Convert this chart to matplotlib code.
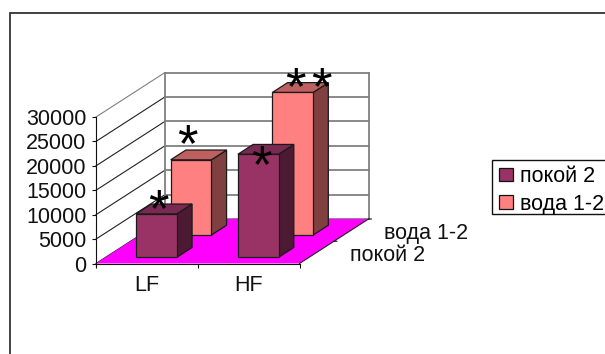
#!/usr/bin/env python3

import matplotlib
matplotlib.use("Agg")
import matplotlib.pyplot as plt
from matplotlib.patches import Patch, Polygon, Rectangle

plt.rcParams["font.family"] = ["Liberation Sans", "DejaVu Sans"]

W, H = 605, 354

categories = ["LF", "HF"]
series_names = ["покой 2", "вода 1-2"]
rest_values = [8900, 21100]
water_values = [15400, 29200]
y_ticks = [0, 5000, 10000, 15000, 20000, 25000, 30000]
# category, series, how far off the bar top each star sits (pixels)
stars = [
    (0, 0, -6, -28),
    (0, 1, -11, -17),
    (1, 0, -5, -44),
    (1, 1, -5, -28),
    (1, 1, 21, -28),
]

# oblique shift of the full chart depth, in data units
DX = 69 / 101.75
DY = 44.5 / 146.5 * 30000
TEXT_SIZE = 15.5

face_colors = ["#993366", "#FF8080"]
side_colors = ["#4D1A33", "#804040"]
top_colors = ["#7A2952", "#BF6060"]
edge = "#1A1A1A"


def pt(x, v, d):
    return (x + d * DX, v + d * DY)


def poly(ax, pts, color, z, ec="none", lw=0.0):
    ax.add_patch(Polygon(pts, closed=True, facecolor=color, edgecolor=ec,
                         linewidth=lw, zorder=z, clip_on=False))


def draw_bar(ax, cat, value, s, z):
    x0, x1 = cat + 0.3, cat + 0.7
    d0, d1 = s * 0.5 + 0.14, s * 0.5 + 0.36
    poly(ax, [pt(x1, 0, d0), pt(x1, 0, d1), pt(x1, value, d1), pt(x1, value, d0)],
         side_colors[s], z, edge, 0.9)
    poly(ax, [pt(x0, value, d0), pt(x1, value, d0), pt(x1, value, d1), pt(x0, value, d1)],
         top_colors[s], z, edge, 0.9)
    poly(ax, [pt(x0, 0, d0), pt(x1, 0, d0), pt(x1, value, d0), pt(x0, value, d0)],
         face_colors[s], z, edge, 0.9)


fig = plt.figure(figsize=(W / 100, H / 100), dpi=100, facecolor="white")
ax = fig.add_axes([96 / W, (H - 263.5) / H, 203.5 / W, 146.5 / H])
ax.set_xlim(0, 2)
ax.set_ylim(0, 30000)
ax.patch.set_visible(False)
for name in ["top", "right"]:
    ax.spines[name].set_visible(False)
for name in ["left", "bottom"]:
    ax.spines[name].set_linewidth(0.8)
    ax.spines[name].set_color("#111111")
    ax.spines[name].set_zorder(2.5)

# outer chart frame, runs past the image edge
fig.add_artist(Rectangle((10 / W, -0.1), 1.0, 0.1 + (H - 13) / H,
                         fill=False, edgecolor="#333333", linewidth=1.3,
                         transform=fig.transFigure))

# walls and gridlines
for v in y_ticks:
    ax.plot([pt(0, v, 0)[0], pt(0, v, 1)[0]], [pt(0, v, 0)[1], pt(0, v, 1)[1]],
            color="#808080" if v == y_ticks[-1] else "#222222",
            lw=0.8, zorder=1, clip_on=False)
    ax.plot([pt(0, v, 1)[0], pt(2, v, 1)[0]], [pt(0, v, 1)[1], pt(2, v, 1)[1]],
            color="#808080", lw=1.3, zorder=1, clip_on=False)
for x in [0, 2]:
    ax.plot([pt(x, 0, 1)[0], pt(x, 30000, 1)[0]], [pt(x, 0, 1)[1], pt(x, 30000, 1)[1]],
            color="#808080", lw=1.3, zorder=1, clip_on=False)

# floor
poly(ax, [pt(0, 0, 0), pt(2, 0, 0), pt(2, 0, 1), pt(0, 0, 1)], "#FF00FF", 2)
ax.plot([pt(2, 0, 0)[0], pt(2, 0, 1)[0]], [pt(2, 0, 0)[1], pt(2, 0, 1)[1]],
        color="#222222", lw=0.8, zorder=2.2, clip_on=False)

# back series first, then the front one
all_values = [rest_values, water_values]
for s in [1, 0]:
    for cat, value in enumerate(all_values[s]):
        draw_bar(ax, cat, value, s, 3 + (1 - s))

# stars above bars
for cat, s, off_x, off_y in stars:
    x, y = pt(cat + 0.5, all_values[s][cat], s * 0.5 + 0.25)
    ax.annotate("*", (x, y), xytext=(off_x, off_y), textcoords="offset pixels",
                ha="center", va="bottom", fontsize=38, color="black",
                zorder=6, annotation_clip=False)

ax.set_yticks(y_ticks)
ax.set_yticklabels([str(v) for v in y_ticks], fontsize=TEXT_SIZE, color="#111111")
ax.set_xticks([0, 1, 2])
ax.set_xticklabels([])
ax.set_xticks([0.5, 1.5], minor=True)
ax.set_xticklabels(categories, minor=True, fontsize=TEXT_SIZE, color="#111111")
ax.tick_params(axis="both", which="major", length=3, width=0.8, color="#111111", pad=4)
ax.tick_params(axis="x", which="minor", length=0, pad=8)

# depth axis labels
for s, name in enumerate(series_names):
    x, y = pt(2, 0, s * 0.5 + 0.25)
    ax.annotate(name, (x, y), xytext=(33, -3), textcoords="offset pixels",
                ha="left", va="center", fontsize=TEXT_SIZE, color="#111111",
                annotation_clip=False)
for d in [0.5, 1.0]:
    x, y = pt(2, 0, d)
    ax.annotate("", (x, y), xytext=(3, 0), textcoords="offset pixels",
                arrowprops=dict(arrowstyle="-", lw=0.8, color="#111111",
                                shrinkA=0, shrinkB=0),
                annotation_clip=False)

# legend box is cut by the image edge, so its frame is drawn apart
fig.add_artist(Rectangle((492 / W, (H - 214) / H), 130 / W, 54 / H,
                         facecolor="white", edgecolor="#111111", linewidth=1.0,
                         transform=fig.transFigure))
handles = [Patch(facecolor=face_colors[i], edgecolor="#111111", linewidth=0.9)
           for i in range(2)]
leg = fig.legend(handles, series_names, loc="upper left",
                 bbox_to_anchor=(492 / W, (H - 159) / H), borderaxespad=0,
                 fontsize=TEXT_SIZE, frameon=False,
                 handlelength=0.65, handleheight=0.56, handletextpad=0.3,
                 borderpad=0.33, labelspacing=0.3)

fig.savefig("out.png", dpi=100)
plt.close()
